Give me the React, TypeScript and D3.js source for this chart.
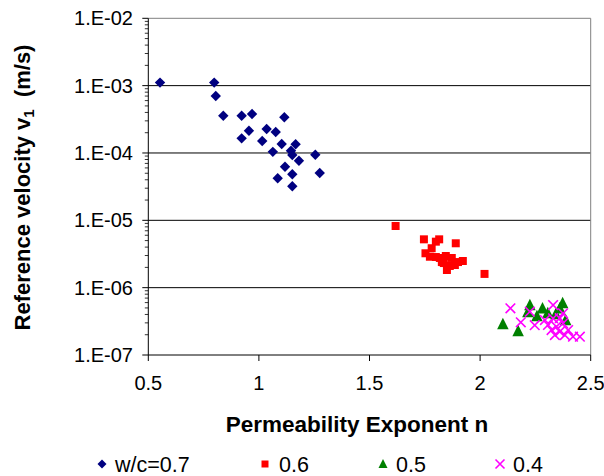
import React from "react";
import * as d3 from "d3";

const wc07n = [0.553, 0.798, 0.805, 0.839, 0.922, 0.969, 1.115, 0.955, 0.922, 1.035, 1.076, 1.015, 1.103, 1.166, 1.063, 1.145, 1.151, 1.181, 1.255, 1.118, 1.151, 1.275, 1.085, 1.151];
const wc07v = [1.11e-3, 1.11e-3, 7.0e-4, 3.58e-4, 3.58e-4, 3.79e-4, 3.39e-4, 2.14e-4, 1.65e-4, 2.27e-4, 2.05e-4, 1.51e-4, 1.36e-4, 1.35e-4, 1.04e-4, 1.08e-4, 9.33e-5, 7.68e-5, 9.42e-5, 6.25e-5, 4.82e-5, 5.05e-5, 4.21e-5, 3.2e-5];

const wc06n = [1.618, 1.746, 1.815, 1.8, 1.89, 1.753, 1.781, 1.773, 2.02, 1.818, 1.845, 1.872, 1.9, 1.922, 1.836, 1.863, 1.886, 1.85, 1.827, 1.8];
const wc06v = [8.23e-6, 5.22e-6, 5.22e-6, 4.82e-6, 4.56e-6, 3.24e-6, 3.85e-6, 2.88e-6, 1.6e-6, 2.76e-6, 2.95e-6, 2.76e-6, 2.4e-6, 2.49e-6, 2.32e-6, 2.1e-6, 2.17e-6, 1.83e-6, 2.4e-6, 2.85e-6];

const wc05n = [2.103, 2.172, 2.225, 2.282, 2.36, 2.216, 2.257, 2.306, 2.373, 2.387, 2.342];
const wc05v = [2.88e-7, 2.27e-7, 5.53e-7, 4.93e-7, 4.93e-7, 4.35e-7, 3.79e-7, 4.2e-7, 5.9e-7, 3.31e-7, 4.06e-7];

const wc04n = [2.137, 2.184, 2.225, 2.247, 2.33, 2.33, 2.375, 2.307, 2.323, 2.345, 2.375, 2.36, 2.398, 2.42, 2.451, 2.338, 2.383, 2.293, 2.36];
const wc04v = [4.93e-7, 3.06e-7, 4.4e-7, 2.77e-7, 5.52e-7, 3.51e-7, 4.16e-7, 2.79e-7, 2.35e-7, 2.63e-7, 2.96e-7, 2.22e-7, 2.35e-7, 1.87e-7, 1.87e-7, 1.98e-7, 1.98e-7, 3.3e-7, 3.53e-7];

const xTicks = [0.5, 1, 1.5, 2, 2.5];
const yTicks = [1e-7, 1e-6, 1e-5, 1e-4, 1e-3, 1e-2];
const yTickLabels = ["1.E-07", "1.E-06", "1.E-05", "1.E-04", "1.E-03", "1.E-02"];
const legendLabels = ["w/c=0.7", "0.6", "0.5", "0.4"];

const FONT = "'Liberation Sans', Arial, sans-serif";

export default function App() {
  const W = 604, H = 476;
  const L = 148.3, R = 590.7, T = 18.3, B = 355;
  const x = d3.scaleLinear().domain([0.5, 2.5]).range([L, R]);
  const y = d3.scaleLog().domain([1e-7, 1e-2]).range([B, T]);

  const minor: number[] = [];
  for (let e = -7; e < -2; e++) for (let k = 2; k <= 9; k++) minor.push(k * Math.pow(10, e));

  const diamond = (cx: number, cy: number, r = 5) => `M${cx},${cy - r}L${cx + r},${cy}L${cx},${cy + r}L${cx - r},${cy}Z`;
  const square = (cx: number, cy: number, s = 8) => `M${cx - s / 2},${cy - s / 2}h${s}v${s}h${-s}Z`;
  const tri = (cx: number, cy: number, s = 10) => `M${cx},${cy - s * 0.55}L${cx + s / 2},${cy + s * 0.45}L${cx - s / 2},${cy + s * 0.45}Z`;
  const cross = (cx: number, cy: number, r = 4.5) => `M${cx - r},${cy - r}L${cx + r},${cy + r}M${cx - r},${cy + r}L${cx + r},${cy - r}`;

  const legY = 464;
  const legItems = [
    { mx: 102, tx: 115, label: legendLabels[0], kind: 0 },
    { mx: 265, tx: 279, label: legendLabels[1], kind: 1 },
    { mx: 383, tx: 396, label: legendLabels[2], kind: 2 },
    { mx: 500, tx: 513, label: legendLabels[3], kind: 3 },
  ];

  const marker = (kind: number, cx: number, cy: number, key: any, small = false) => {
    if (kind === 0) return <path key={key} d={diamond(cx, cy, small ? 4.5 : 5.2)} fill="#000080" />;
    if (kind === 1) return <path key={key} d={square(cx, cy, small ? 7 : 8)} fill="#FF0000" />;
    if (kind === 2) return <path key={key} d={tri(cx, cy, small ? 9 : 11.5)} fill="#008000" />;
    return <path key={key} d={cross(cx, cy, small ? 4.5 : 4.8)} stroke="#FF00FF" strokeWidth={1.6} fill="none" />;
  };

  return (
    <svg width={W} height={H} style={{ position: "absolute", left: 0, top: 0, background: "#fff" }} fontFamily={FONT}>
      <rect x={0} y={0} width={W} height={H} fill="#fff" />
      {yTicks.slice(1, 5).map((t, i) => (
        <line key={"g" + i} x1={L} x2={R} y1={y(t)} y2={y(t)} stroke="#000" strokeWidth={1} />
      ))}
      <line x1={L} x2={R} y1={T} y2={T} stroke="#808080" strokeWidth={1} />
      <line x1={R} x2={R} y1={T} y2={B} stroke="#808080" strokeWidth={1} />
      <line x1={L} x2={L} y1={T} y2={B} stroke="#000" strokeWidth={1} />
      <line x1={L} x2={R} y1={B} y2={B} stroke="#000" strokeWidth={1} />
      {yTicks.map((t, i) => (
        <g key={"yt" + i}>
          <line x1={L - 6} x2={L} y1={y(t)} y2={y(t)} stroke="#000" />
          <text x={133} y={y(t)} dy="0.35em" textAnchor="end" fontSize={20}>{yTickLabels[i]}</text>
        </g>
      ))}
      {minor.map((t, i) => (
        <line key={"ym" + i} x1={L - 3.5} x2={L} y1={y(t)} y2={y(t)} stroke="#000" strokeWidth={0.8} />
      ))}
      {xTicks.map((t, i) => (
        <g key={"xt" + i}>
          <line x1={x(t)} x2={x(t)} y1={B} y2={B + 6} stroke="#000" />
          <text x={x(t)} y={390} textAnchor="middle" fontSize={20}>{String(t)}</text>
        </g>
      ))}
      <text x={357} y={432} textAnchor="middle" fontSize={22.5} fontWeight="bold">Permeability Exponent n</text>
      <text transform={`translate(30,${(35 + 340) / 2}) rotate(-90)`} textAnchor="middle" fontSize={22} fontWeight="bold">
        Reference velocity v<tspan fontSize={15} dy={4}>1</tspan><tspan dy={-4}>{"\u00a0\u00a0(m/s)"}</tspan>
      </text>
      {wc07n.map((n, i) => marker(0, x(n), y(wc07v[i]), "a" + i))}
      {wc06n.map((n, i) => marker(1, x(n), y(wc06v[i]), "b" + i))}
      {wc05n.map((n, i) => marker(2, x(n), y(wc05v[i]), "c" + i))}
      {wc04n.map((n, i) => marker(3, x(n), y(wc04v[i]), "d" + i))}
      {legItems.map((it, i) => (
        <g key={"l" + i}>
          {marker(it.kind, it.mx, legY, "lm" + i, true)}
          <text x={it.tx} y={legY} dy="0.35em" fontSize={21.5}>{it.label}</text>
        </g>
      ))}
    </svg>
  );
}
